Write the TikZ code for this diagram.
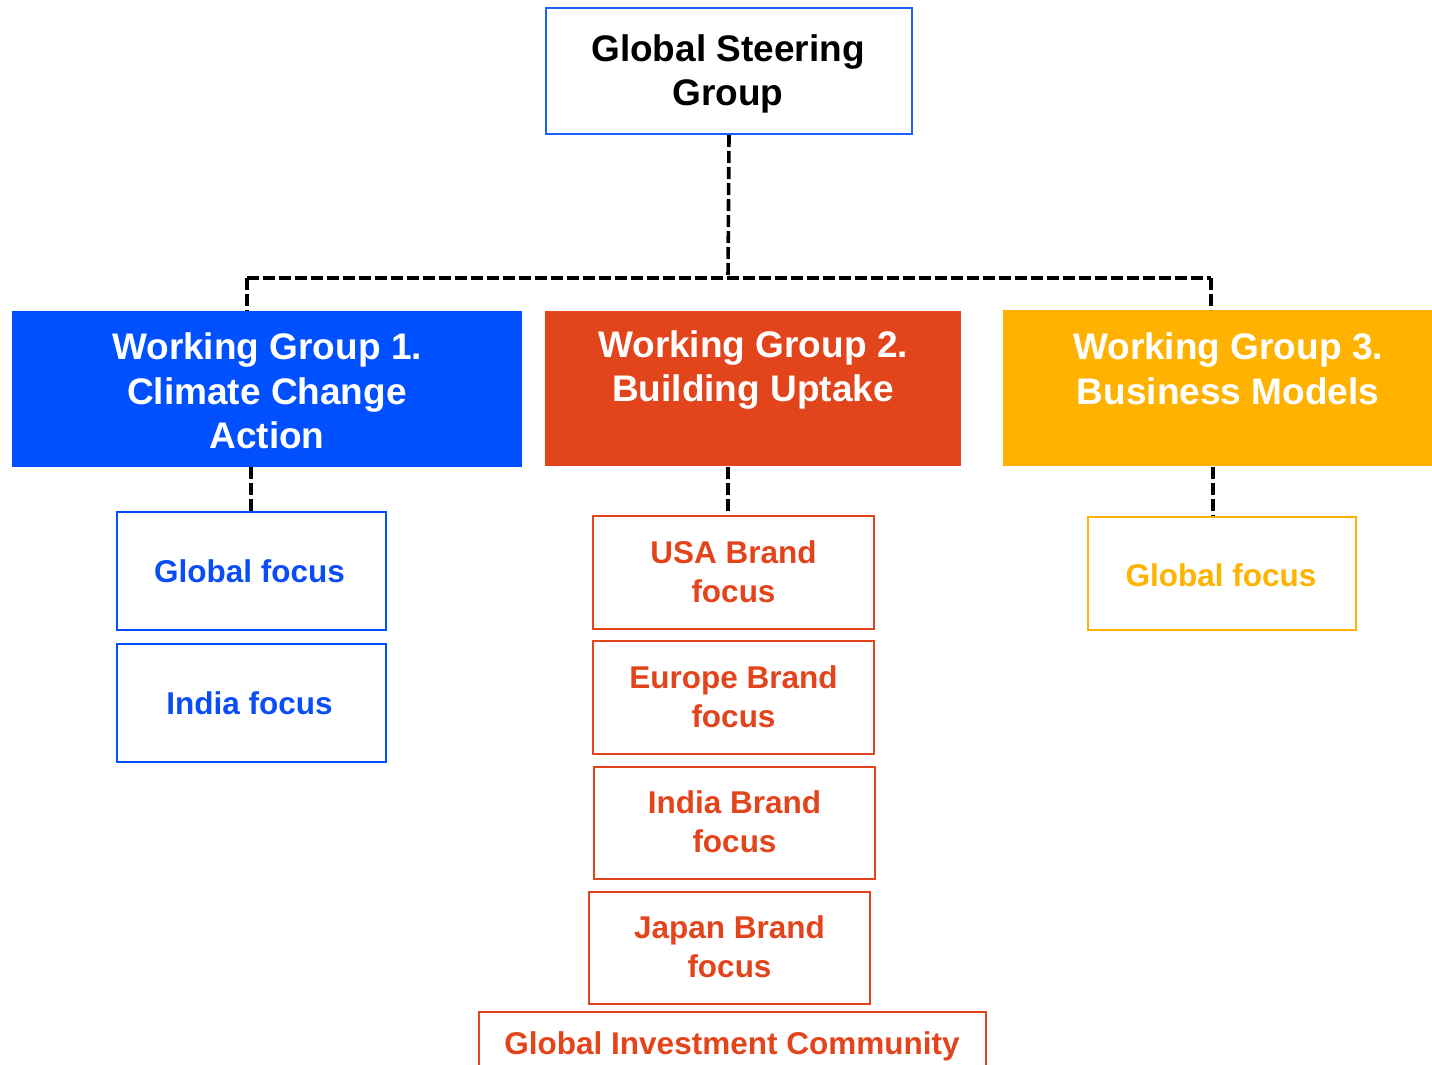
\documentclass[tikz,border=0pt]{standalone}
\usepackage{fontspec}
\setmainfont{Liberation Sans}
\definecolor{wgblue}{HTML}{0050FF}
\definecolor{wgred}{HTML}{E2441C}
\definecolor{wgyellow}{HTML}{FFB300}
\definecolor{txtblue}{HTML}{0A4CF5}
\begin{document}
\begin{tikzpicture}[x=1pt,y=-1pt,
  box/.style={draw, line width=2pt, minimum width=#1, inner sep=0pt, anchor=north west},
  wg/.style={inner sep=0pt, anchor=north west},
  big/.style={font=\fontsize{37}{44.5}\selectfont\bfseries, align=center},
  small/.style={font=\fontsize{31.5}{39}\selectfont\bfseries, align=center},
  conn/.style={draw=black, line width=3.6pt, dash pattern=on 12pt off 4pt}]
\useasboundingbox (0,0) rectangle (1432,1065);
% top
\node[box=366pt, draw=wgblue!90!white, minimum height=126pt] (gsg) at (545,7) {};
\node[big] (gsgt) at (728,74) {Global Steering\\Group};
% working groups
\node[wg, fill=wgblue, minimum width=510pt, minimum height=156pt] (wg1) at (12,311) {};
\node[big, text=white] (wg1t) at (267,391) {Working Group 1.\\Climate Change\\Action};
\node[wg, fill=wgred, minimum width=416pt, minimum height=155pt] (wg2) at (545,311) {};
\node[big, text=white] (wg2t) at (753,370) {Working Group 2.\\Building Uptake};
\node[wg, fill=wgyellow, minimum width=429pt, minimum height=156pt] (wg3) at (1003,310) {};
\node[big, text=white] (wg3t) at (1228,369) {Working Group 3.\\Business Models};
% junction
\coordinate (j) at (728,278);
\coordinate (j1) at (247,278);
\coordinate (j3) at (1211,278);
\draw[conn] (gsg.south) -- (j);
\draw[conn] (j1) -- (j3);
\draw[conn] (j1) -- (j1 |- wg1.north);
\draw[conn] (j3) -- (j3 |- wg3.north);
% WG1 children
\node[box=269pt, draw=wgblue, minimum height=118pt] (g1) at (116,511) {};
\node[small, text=txtblue] at ([xshift=-2pt]g1.center) {Global focus};
\node[box=269pt, draw=wgblue, minimum height=118pt] (i1) at (116,643) {};
\node[small, text=txtblue] at ([xshift=-2pt]i1.center) {India focus};
\draw[conn] (251,467) -- (251,511);
% WG2 children
\node[box=281pt, draw=wgred, minimum height=113pt] (usa) at (592,515) {};
\node[small, text=wgred] at ([yshift=1pt]usa.center) {USA Brand\\focus};
\node[box=281pt, draw=wgred, minimum height=113pt] (eur) at (592,640) {};
\node[small, text=wgred] at ([yshift=1pt]eur.center) {Europe Brand\\focus};
\node[box=281pt, draw=wgred, minimum height=112pt] (ind) at (593,766) {};
\node[small, text=wgred] at ([yshift=1pt]ind.center) {India Brand\\focus};
\node[box=281pt, draw=wgred, minimum height=112pt] (jap) at (588,891) {};
\node[small, text=wgred] at ([yshift=1pt]jap.center) {Japan Brand\\focus};
\draw[draw=wgred, line width=2pt] (479,1065) |- (986,1012) -- (986,1065);
\node[small, text=wgred] (gic) at (732,1046) {Global Investment Community};
\draw[conn] (728,467) -- (728,515);
% WG3 children
\node[box=268pt, draw=wgyellow, minimum height=113pt] (g3) at (1087,516) {};
\node[small, text=wgyellow] at (1221,575) {Global focus};
\draw[conn] (1213,467) -- (1213,516);
\end{tikzpicture}
\end{document}
